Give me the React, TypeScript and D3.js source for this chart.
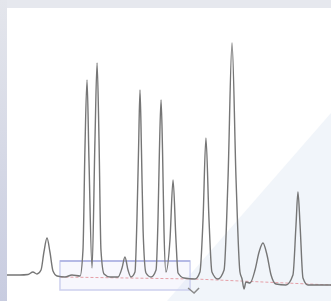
import React, { useRef, useEffect } from "react";
import * as d3 from "d3";

// retention time (min) and detector signal (mV)
const times = [
  0, 0.8, 1.3, 1.6, 1.85, 2.1, 2.28, 2.47, 2.65, 2.84, 3.09, 3.58, 4.01, 4.51,
  4.69, 4.81, 4.94, 5.06, 5.25, 5.43, 5.56, 5.68, 5.8, 5.99, 6.36, 6.85, 7.1,
  7.28, 7.47, 7.65, 7.9, 8.02, 8.12, 8.21, 8.3, 8.4, 8.58, 8.89, 9.2, 9.32,
  9.41, 9.51, 9.6, 9.69, 9.81, 10.06, 10.25, 10.43, 10.56, 10.93, 11.6, 11.91,
  12.1, 12.28, 12.47, 12.65, 13.02, 13.4, 13.64, 13.89, 14.14, 14.38, 14.51,
  14.63, 14.75, 15.0, 15.31, 15.56, 15.8, 16.05, 16.3, 16.6, 17.22, 17.65,
  17.84, 17.96, 18.09, 18.27, 18.58, 20.0,
];
const signal = [
  20, 20, 20.5, 23, 21, 25, 43, 57, 43, 24, 19, 18, 20, 19,
  45, 145, 215, 135, 27, 155, 232, 155, 45, 21, 18, 18, 27,
  38, 25, 18, 23, 75, 145, 205, 145, 65, 22, 18, 25, 75,
  145, 195, 145, 65, 23, 55, 115, 55, 22, 17, 16, 23,
  75, 157, 75, 23, 16, 25, 115, 252, 115, 23, 16,
  6, 13, 12, 25, 43, 52, 40, 20, 11, 10, 20,
  70, 103, 70, 17, 10, 10,
];

// integration baseline and zoom window
const baseTimes = [3.3, 11.6, 14.4, 20.0];
const baseSignal = [18, 16, 14, 10];
const zoomWindow = { t0: 3.27, t1: 11.3, s0: 5, s1: 34 };

const W = 331;
const H = 301;

const Chromatogram = () => {
  const svgRef = useRef<SVGSVGElement>(null);

  useEffect(() => {
    const svg = d3.select(svgRef.current);
    svg.selectAll("*").remove();

    const x = d3.scaleLinear().domain([0, 20]).range([7, 331]);
    const y = d3.scaleLinear().domain([0, 260]).range([295, 35]);

    const defs = svg.append("defs");
    const lg = defs
      .append("linearGradient")
      .attr("id", "leftStrip")
      .attr("x1", 0)
      .attr("y1", 0)
      .attr("x2", 0)
      .attr("y2", 1);
    lg.append("stop").attr("offset", "0%").attr("stop-color", "#e4e6ec");
    lg.append("stop").attr("offset", "100%").attr("stop-color", "#c8cce0");

    // background frame
    svg.append("rect").attr("width", W).attr("height", H).attr("fill", "#ffffff");
    svg.append("rect").attr("width", W).attr("height", 8).attr("fill", "#e6e8ee");
    svg.append("rect").attr("width", 7).attr("height", H).attr("fill", "url(#leftStrip)");
    svg
      .append("polygon")
      .attr("points", "331,113 331,301 167,301")
      .attr("fill", "#f1f5fa");

    // zoom window box
    svg
      .append("rect")
      .attr("x", x(zoomWindow.t0))
      .attr("y", y(zoomWindow.s1))
      .attr("width", x(zoomWindow.t1) - x(zoomWindow.t0))
      .attr("height", y(zoomWindow.s0) - y(zoomWindow.s1))
      .attr("fill", "rgba(215,215,245,0.2)")
      .attr("stroke", "#cdd0ee")
      .attr("stroke-width", 1.5);
    svg
      .append("line")
      .attr("x1", x(zoomWindow.t0))
      .attr("x2", x(zoomWindow.t1))
      .attr("y1", y(zoomWindow.s1))
      .attr("y2", y(zoomWindow.s1))
      .attr("stroke", "#a9aee0")
      .attr("stroke-width", 1.5);

    // baseline
    const baseLine = d3
      .line<number>()
      .x((d, i) => x(baseTimes[i]))
      .y((d) => y(d));
    svg
      .append("path")
      .attr("d", baseLine(baseSignal))
      .attr("fill", "none")
      .attr("stroke", "#e6a0a8")
      .attr("stroke-width", 1)
      .attr("stroke-dasharray", "3,2");

    // trace
    const trace = d3
      .line<number>()
      .x((d, i) => x(times[i]))
      .y((d) => y(d))
      .curve(d3.curveMonotoneX);
    svg
      .append("path")
      .attr("d", trace(signal))
      .attr("fill", "none")
      .attr("stroke", "#767676")
      .attr("stroke-width", 1.4)
      .attr("stroke-linejoin", "round");

    // small marker below the window
    const mx = x(zoomWindow.t1) + 4;
    const my = y(zoomWindow.s0) + 3;
    svg
      .append("path")
      .attr("d", `M${mx - 6},${my - 5} L${mx},${my} L${mx + 5},${my - 5}`)
      .attr("fill", "none")
      .attr("stroke", "#8a8a8a")
      .attr("stroke-width", 1.5);
  }, []);

  return (
    <svg
      ref={svgRef}
      width={W}
      height={H}
      style={{ position: "absolute", left: 0, top: 0 }}
    />
  );
};

export default function App() {
  return <Chromatogram />;
}
